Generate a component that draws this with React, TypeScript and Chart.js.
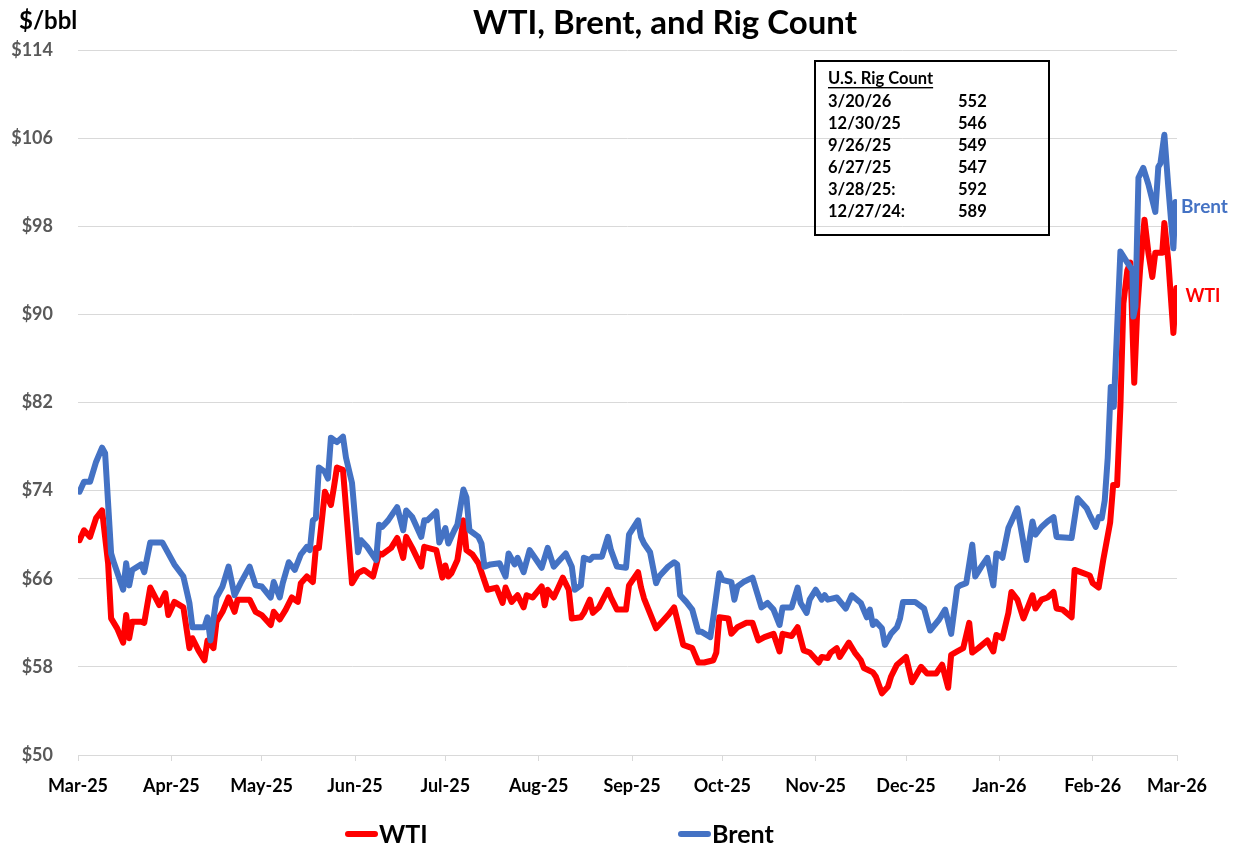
import React, { useEffect, useRef } from 'react';
import { Chart, registerables } from 'chart.js';

Chart.register(...registerables);

const FONT = 'Lato, "Open Sans", sans-serif';

// Month tick positions (days since Mar 1, 2025) and their labels
const monthTickDays = [0, 31, 61, 92, 122, 153, 184, 214, 245, 275, 306, 337, 365];
const monthLabels = ['Mar-25', 'Apr-25', 'May-25', 'Jun-25', 'Jul-25', 'Aug-25', 'Sep-25', 'Oct-25', 'Nov-25', 'Dec-25', 'Jan-26', 'Feb-26', 'Mar-26'];

// Rig count table
const rigDates = ['3/20/26', '12/30/25', '9/26/25', '6/27/25', '3/28/25:', '12/27/24:'];
const rigCounts = [552, 546, 549, 547, 592, 589];

// Brent ($/bbl), day offsets since Mar 1, 2025
const brentDays = [
  0.5, 2, 4, 6, 8, 9, 11, 12, 15, 16,
  17, 18, 21, 22, 24, 28, 32, 35, 37, 38,
  42, 43, 44, 46, 48, 50, 52, 54, 57, 59,
  61, 64, 65, 67, 68, 70, 72, 74, 76, 77,
  78, 79, 80, 82, 83, 84, 86, 88, 89, 91,
  93, 94, 96, 99, 100, 101, 103, 106, 108, 109,
  111, 114, 115, 116, 119, 120, 122, 123, 125, 126,
  128, 129, 130, 133, 134, 135, 137, 140, 142, 143,
  145, 146, 148, 150, 151, 154, 156, 158, 160, 162,
  164, 165, 167, 168, 170, 171, 174, 176, 177, 179,
  182, 183, 186, 187, 188, 190, 192, 193, 196, 198,
  199, 200, 202, 204, 206, 207, 210, 211, 213, 214,
  217, 218, 219, 221, 224, 226, 227, 229, 231, 233,
  234, 237, 239, 240, 242, 243, 245, 247, 248, 249,
  252, 255, 257, 260, 262, 263, 264, 265, 267, 268,
  270, 272, 273, 274, 278, 281, 283, 286, 288, 290,
  292, 293, 295, 297, 298, 300, 302, 304, 305, 306,
  307, 309, 310, 312, 315, 317, 318, 320, 322, 324,
  325, 330, 332, 335, 336, 338, 339, 340, 341, 342,
  343, 344, 346.2, 348.5, 350.2, 350.5, 351.2, 352.2, 353.8, 355.5,
  357.8, 358.8, 359.5, 360.8, 362.1, 363.8, 364.5, 365,
];
const brentPrices = [
  73.9, 74.8, 74.8, 76.6, 77.9, 77.4, 68.3, 67.4, 65.0, 67.4,
  65.4, 66.8, 67.3, 66.6, 69.3, 69.3, 67.3, 66.2, 63.8, 61.6,
  61.6, 62.5, 60.4, 64.3, 65.3, 67.1, 64.5, 65.6, 67.1, 65.4,
  65.3, 64.3, 65.7, 64.3, 65.6, 67.5, 66.8, 68.2, 68.9, 68.6,
  71.3, 71.5, 76.1, 75.7, 75.1, 78.8, 78.4, 78.9, 77.0, 74.7,
  68.4, 69.5, 68.9, 67.7, 70.9, 70.7, 71.3, 72.5, 70.4, 72.2,
  71.6, 69.8, 71.3, 71.3, 72.1, 69.3, 70.6, 69.2, 70.4, 70.9,
  74.1, 73.4, 70.4, 69.8, 69.2, 67.1, 67.3, 67.4, 66.2, 68.3,
  67.3, 67.9, 66.6, 68.6, 68.2, 67.0, 68.8, 67.1, 67.7, 68.3,
  67.1, 65.0, 65.4, 67.9, 67.7, 68.0, 68.0, 69.8, 68.6, 67.1,
  67.0, 70.0, 71.3, 69.8, 69.2, 68.4, 65.6, 66.2, 67.1, 67.5,
  67.3, 64.5, 63.9, 63.2, 61.2, 61.2, 60.7, 62.5, 66.5, 65.9,
  65.7, 64.1, 65.3, 65.7, 66.1, 64.3, 63.4, 63.8, 63.2, 61.8,
  63.4, 63.4, 65.2, 63.8, 62.9, 64.1, 65.0, 64.1, 64.5, 64.1,
  64.3, 63.3, 64.5, 63.8, 62.5, 63.2, 61.8, 62.1, 61.5, 60.0,
  61.0, 61.6, 62.4, 63.9, 63.9, 63.3, 61.3, 62.3, 63.2, 61.0,
  65.2, 65.4, 65.6, 69.1, 66.2, 67.1, 67.9, 65.4, 68.3, 68.2,
  67.9, 70.6, 71.2, 72.4, 67.7, 71.2, 70.0, 70.7, 71.2, 71.6,
  69.8, 69.7, 73.3, 72.4, 71.8, 70.7, 71.6, 71.5, 73.1, 77.0,
  83.4, 81.6, 95.7, 94.7, 94.0, 89.8, 90.7, 102.4, 103.3, 101.8,
  99.3, 103.4, 103.7, 106.3, 101.6, 96.0, 100.2, 100.1,
];

// WTI ($/bbl), day offsets since Mar 1, 2025
const wtiDays = [
  0.5, 2, 4, 6, 8, 10, 11, 13, 15, 16,
  17, 18, 21, 22, 24, 27, 29, 30, 32, 35,
  37, 38, 40, 42, 43, 45, 46, 48, 50, 52,
  53, 57, 59, 61, 64, 65, 67, 69, 71, 73,
  74, 76, 78, 79, 80, 82, 84, 85, 86, 88,
  89, 91, 93, 95, 98, 100, 101, 104, 106, 108,
  109, 111, 114, 115, 119, 121, 122, 123, 124, 126,
  128, 129, 131, 133, 136, 139, 141, 142, 144, 146,
  148, 149, 151, 154, 155, 156, 158, 161, 163, 164,
  167, 168, 170, 171, 173, 176, 177, 179, 182, 183,
  186, 187, 188, 192, 194, 196, 198, 199, 201, 204,
  206, 208, 211, 212, 213, 216, 217, 219, 222, 224,
  226, 228, 231, 233, 234, 237, 239, 241, 243, 246,
  247, 249, 250, 252, 253, 256, 258, 260, 261, 264,
  265, 267, 269, 270, 272, 275, 277, 280, 282, 285,
  287, 289, 290, 292, 294, 296, 297, 299, 302, 304,
  305, 307, 309, 310, 312, 314, 317, 318, 320, 322,
  324, 325, 327, 330, 331, 333, 336, 337, 339, 340.5,
  342.8, 343.8, 345.1, 346.2, 347.2, 348.5, 349.5, 350.8, 351.8, 352.8,
  354.2, 355.5, 356.8, 357.8, 360.1, 360.8, 362.1, 363.8, 364.8,
];
const wtiPrices = [
  69.5, 70.4, 69.8, 71.5, 72.2, 67.4, 62.4, 61.5, 60.2, 62.7,
  60.6, 62.1, 62.1, 62.0, 65.2, 63.6, 64.7, 62.7, 63.9, 63.4,
  59.7, 60.6, 59.5, 58.6, 60.4, 59.7, 62.1, 63.0, 64.3, 63.0,
  64.1, 64.1, 63.0, 62.7, 61.8, 63.0, 62.3, 63.2, 64.3, 63.9,
  65.6, 66.2, 65.7, 68.8, 68.8, 73.9, 72.7, 74.3, 76.1, 75.9,
  72.5, 65.6, 66.5, 66.8, 66.2, 68.3, 68.2, 68.8, 69.7, 67.9,
  69.8, 68.8, 67.1, 68.9, 68.6, 66.1, 67.2, 66.2, 66.5, 67.7,
  71.3, 68.6, 68.2, 67.4, 65.0, 65.2, 63.8, 65.2, 63.9, 64.5,
  63.4, 64.5, 64.3, 65.3, 63.6, 65.0, 64.3, 66.1, 65.0, 62.4,
  62.5, 62.9, 64.1, 62.9, 63.4, 65.0, 64.3, 63.2, 63.2, 65.4,
  66.6, 65.2, 64.2, 61.5, 62.1, 62.7, 63.4, 62.3, 60.0, 59.7,
  58.4, 58.4, 58.6, 59.3, 62.5, 62.4, 61.0, 61.6, 62.0, 62.0,
  60.4, 60.7, 61.0, 59.4, 61.0, 60.8, 61.6, 59.5, 59.3, 58.4,
  58.9, 58.8, 59.3, 59.7, 58.9, 60.2, 59.3, 58.6, 57.9, 57.5,
  57.1, 55.6, 56.2, 57.1, 58.2, 58.9, 56.6, 58.0, 57.4, 57.4,
  58.2, 56.1, 59.1, 59.4, 59.7, 62.0, 59.3, 59.7, 60.4, 59.4,
  60.9, 60.6, 62.9, 64.8, 64.1, 62.4, 64.5, 63.3, 64.1, 64.3,
  64.8, 63.3, 63.2, 62.5, 66.8, 66.6, 66.3, 65.6, 65.2, 67.7,
  71.1, 74.5, 74.5, 81.6, 91.0, 94.0, 94.7, 83.8, 90.4, 94.3,
  98.6, 95.6, 93.4, 95.6, 95.6, 98.3, 94.9, 88.3, 92.4,
];

const WTI_COLOR = '#FF0000';
const BRENT_COLOR = '#4472C4';

const toPoints = (days: number[], values: number[]) => days.map((d, i) => ({ x: d, y: values[i] }));

const overlayPlugin = {
  id: 'overlay',
  afterDraw(chart: any) {
    const ctx = chart.ctx as CanvasRenderingContext2D;
    ctx.save();
    // Title
    ctx.fillStyle = '#000';
    ctx.textBaseline = 'middle';
    ctx.textAlign = 'center';
    ctx.font = `bold 33px ${FONT}`;
    ctx.fillText('WTI, Brent, and Rig Count', 665, 23);
    // Unit label
    ctx.textAlign = 'left';
    ctx.font = `bold 24px ${FONT}`;
    ctx.fillText('$/bbl', 19, 21);

    // Rig count box
    ctx.lineWidth = 2;
    ctx.strokeStyle = '#000';
    ctx.strokeRect(815, 61, 234, 174);
    ctx.font = `bold 16.5px ${FONT}`;
    ctx.fillStyle = '#000';
    const header = 'U.S. Rig Count';
    ctx.fillText(header, 828, 79);
    const hw = ctx.measureText(header).width;
    ctx.fillRect(828, 87, hw, 1.4);
    rigDates.forEach((d, i) => {
      const y = 102 + i * 22;
      ctx.fillText(d, 828, y);
      ctx.fillText(String(rigCounts[i]), 958, y);
    });

    // End-of-line labels
    const endOffsets = [
      { dx: 9, dy: 8, size: 18 },
      { dx: 4, dy: 4, size: 19 },
    ];
    chart.data.datasets.forEach((ds: any, i: number) => {
      const meta = chart.getDatasetMeta(i);
      const last = meta.data[meta.data.length - 1];
      if (!last) return;
      ctx.fillStyle = ds.borderColor;
      ctx.font = `bold ${endOffsets[i].size}px ${FONT}`;
      ctx.textAlign = 'left';
      ctx.fillText(ds.label, last.x + endOffsets[i].dx, last.y + endOffsets[i].dy);
    });

    // Bottom legend
    const legendItems = [
      { x: 345, label: 'WTI', color: WTI_COLOR },
      { x: 678, label: 'Brent', color: BRENT_COLOR },
    ];
    legendItems.forEach((it) => {
      ctx.strokeStyle = it.color;
      ctx.lineWidth = 6;
      ctx.lineCap = 'round';
      ctx.beginPath();
      ctx.moveTo(it.x + 3, 834);
      ctx.lineTo(it.x + 30, 834);
      ctx.stroke();
      ctx.fillStyle = '#000';
      ctx.font = `bold 25px ${FONT}`;
      ctx.fillText(it.label, it.x + 34, 835);
    });
    ctx.restore();
  },
};

export default function App() {
  const canvasRef = useRef<HTMLCanvasElement | null>(null);

  useEffect(() => {
    if (!canvasRef.current) return;
    const chart = new Chart(canvasRef.current, {
      type: 'line',
      data: {
        datasets: [
          {
            label: 'WTI',
            data: toPoints(wtiDays, wtiPrices),
            borderColor: WTI_COLOR,
            backgroundColor: WTI_COLOR,
            borderWidth: 6,
            pointRadius: 0,
            tension: 0,
            borderJoinStyle: 'round',
            borderCapStyle: 'round',
            order: 1,
          },
          {
            label: 'Brent',
            data: toPoints(brentDays, brentPrices),
            borderColor: BRENT_COLOR,
            backgroundColor: BRENT_COLOR,
            borderWidth: 6,
            pointRadius: 0,
            tension: 0,
            borderJoinStyle: 'round',
            borderCapStyle: 'round',
            order: 0,
          },
        ],
      },
      options: {
        animation: false,
        responsive: true,
        maintainAspectRatio: false,
        layout: { padding: { left: 0, top: 50, right: 66, bottom: 0 } },
        plugins: {
          legend: { display: false },
          title: { display: false },
          tooltip: { enabled: false },
        },
        scales: {
          x: {
            type: 'linear',
            min: 0,
            max: 365,
            afterBuildTicks: (scale: any) => {
              scale.ticks = monthTickDays.map((v) => ({ value: v }));
            },
            afterFit: (scale: any) => {
              scale.height = 96;
            },
            ticks: {
              autoSkip: false,
              maxRotation: 0,
              padding: 14,
              color: '#000',
              font: { family: FONT, size: 18, weight: 'bold' },
              callback: (v: any) => monthLabels[monthTickDays.indexOf(Number(v))] ?? '',
            },
            grid: { drawOnChartArea: false, drawTicks: true, tickLength: 6, color: '#d9d9d9' },
            border: { display: true, color: '#d9d9d9', width: 1 },
          },
          y: {
            min: 50,
            max: 114,
            afterFit: (scale: any) => {
              scale.width = 78;
            },
            ticks: {
              stepSize: 8,
              padding: 25,
              color: '#595959',
              font: { family: FONT, size: 18, weight: 'bold' },
              callback: (v: any) => '$' + v,
            },
            grid: { color: '#d9d9d9', drawTicks: false, lineWidth: 1 },
            border: { display: false },
          },
        },
      },
      plugins: [overlayPlugin],
    } as any);
    return () => chart.destroy();
  }, []);

  return (
    <div style={{ position: 'fixed', left: 0, top: 0, width: 1243, height: 851, background: '#fff' }}>
      <canvas ref={canvasRef} />
    </div>
  );
}
